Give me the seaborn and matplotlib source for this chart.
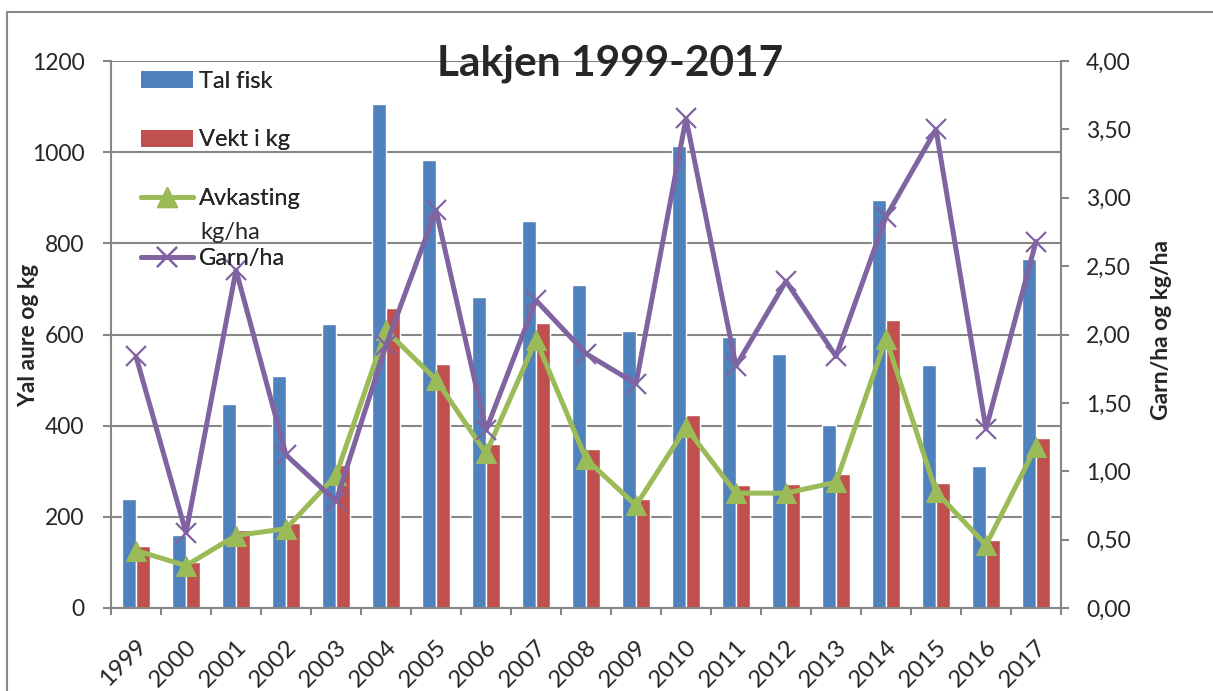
import numpy as np
import pandas as pd
import matplotlib
matplotlib.use('Agg')
import matplotlib.pyplot as plt
import seaborn as sns
from matplotlib.lines import Line2D
from matplotlib.patches import Patch

years = [str(y) for y in range(1999, 2018)]
tal_fisk = [240, 160, 448, 508, 622, 1105, 983, 683, 848, 709, 608, 1014, 595, 557, 401, 894, 534, 312, 766]
vekt_kg = [137, 100, 172, 187, 313, 659, 535, 360, 625, 349, 240, 424, 270, 273, 295, 632, 274, 149, 373]
avkasting = [0.42, 0.31, 0.53, 0.58, 0.97, 2.03, 1.67, 1.13, 1.96, 1.09, 0.75, 1.32, 0.84, 0.84, 0.92, 1.97, 0.85, 0.46, 1.18]
garn_ha = [1.84, 0.55, 2.47, 1.12, 0.78, 1.92, 2.91, 1.30, 2.25, 1.86, 1.64, 3.58, 1.77, 2.39, 1.84, 2.86, 3.50, 1.31, 2.68]

left_ticks = [0, 200, 400, 600, 800, 1000, 1200]
right_ticks = [0, 0.5, 1.0, 1.5, 2.0, 2.5, 3.0, 3.5, 4.0]

blue = '#4F81BD'
red = '#C0504D'
green = '#9BBB59'
purple = '#8064A2'
grid_c = '#868686'

sns.set_theme(style='white')
plt.rcParams['font.family'] = ['Lato', 'DejaVu Sans']

bars = pd.DataFrame({'year': years * 2,
                     'value': tal_fisk + vekt_kg,
                     'serie': ['Tal fisk'] * len(years) + ['Vekt i kg'] * len(years)})
lines = pd.DataFrame({'pos': np.arange(len(years)), 'Avkasting': avkasting, 'Garn': garn_ha})

W, H = 1213, 691
fig = plt.figure(figsize=(W / 100, H / 100), dpi=100)
ax = fig.add_axes([111 / W, 1 - 608 / H, 950 / W, 547 / H])


def fx(px):
    return px / W


def fy(px):
    return 1 - px / H


sns.barplot(data=bars, x='year', y='value', hue='serie', palette=[blue, red],
            width=0.57, saturation=1, ax=ax, legend=False, zorder=2)
ax.set_ylim(0, 1200)
ax.set_xlim(-0.5, len(years) - 0.5)
ax.set_yticks(left_ticks)
ax.yaxis.grid(True, color=grid_c, linewidth=1.5)
ax.set_axisbelow(True)
for s in ['left', 'bottom']:
    ax.spines[s].set_color(grid_c)
    ax.spines[s].set_linewidth(1.5)
for s in ['top', 'right']:
    ax.spines[s].set_visible(False)
ax.set_xlabel('')
ax.set_ylabel('')
ax.tick_params(axis='y', direction='out', length=6, width=1.5, color=grid_c,
               labelsize=16.5, pad=13, left=True)
ax.set_xticks(np.arange(len(years)))
ax.set_xticklabels(years, rotation=45, ha='right', rotation_mode='anchor', fontsize=17.5)
ax.tick_params(axis='x', which='major', length=0, pad=20)
ax.set_xticks(np.arange(len(years) + 1) - 0.5, minor=True)
ax.tick_params(axis='x', which='minor', direction='out', length=5, width=1.5,
               color=grid_c, bottom=True)

ax2 = ax.twinx()
sns.lineplot(data=lines, x='pos', y='Avkasting', ax=ax2, color=green, linewidth=3.6,
             marker='^', markersize=14, markeredgecolor=green, zorder=4)
sns.lineplot(data=lines, x='pos', y='Garn', ax=ax2, color=purple, linewidth=3.6,
             marker='x', markersize=14, markeredgewidth=1.6, markeredgecolor=purple, zorder=5)
ax2.set_ylim(0, 4)
ax2.set_xlim(-0.5, len(years) - 0.5)
ax2.set_yticks(right_ticks)
ax2.set_yticklabels([f'{v:.2f}'.replace('.', ',') for v in right_ticks])
ax2.tick_params(axis='y', direction='out', length=6, width=1.5, color=grid_c,
                labelsize=16.5, pad=12, right=True)
ax2.set_xlabel('')
ax2.set_ylabel('')
for s in ['left', 'top', 'bottom']:
    ax2.spines[s].set_visible(False)
ax2.spines['right'].set_color(grid_c)
ax2.spines['right'].set_linewidth(1.5)

# axis titles
fig.text(fx(29), fy(335), 'Yal aure og kg', rotation=90, fontsize=16.5,
         fontweight='bold', ha='center', va='center')
fig.text(fx(1161), fy(330), 'Garn/ha og kg/ha', rotation=90, fontsize=16.5,
         fontweight='bold', ha='center', va='center')

# legend entries placed like Excel does it
entries = [
    (Patch(facecolor=blue, edgecolor='none'), 'Tal fisk', 81),
    (Patch(facecolor=red, edgecolor='none'), 'Vekt i kg', 140),
    (Line2D([], [], color=green, lw=3.6, marker='^', markersize=14), 'Avkasting', 199),
    (Line2D([], [], color=purple, lw=3.6, marker='x', markersize=14, markeredgewidth=1.6), 'Garn/ha', 259),
]
for h, lab, ypx in entries:
    leg = fig.legend([h], [lab], loc='center left', bbox_to_anchor=(fx(141), fy(ypx)),
                     frameon=False, fontsize=17, handlelength=2.2, handleheight=0.7,
                     handletextpad=0.25, borderpad=0, borderaxespad=0)
    fig.add_artist(leg)
fig.text(fx(200), fy(232), 'kg/ha', fontsize=17, va='center', ha='left')

fig.text(0.503, fy(64), 'Lakjen 1999-2017', fontsize=30.5, fontweight='bold',
         ha='center', va='center', zorder=10)

# outer chart frame
fig.add_artist(Line2D([fx(7), fx(7)], [0, fy(12)], color='#898989', lw=1.5))
fig.add_artist(Line2D([fx(7), 1], [fy(12), fy(12)], color='#898989', lw=1.5))

fig.savefig('out.png', dpi=100)
